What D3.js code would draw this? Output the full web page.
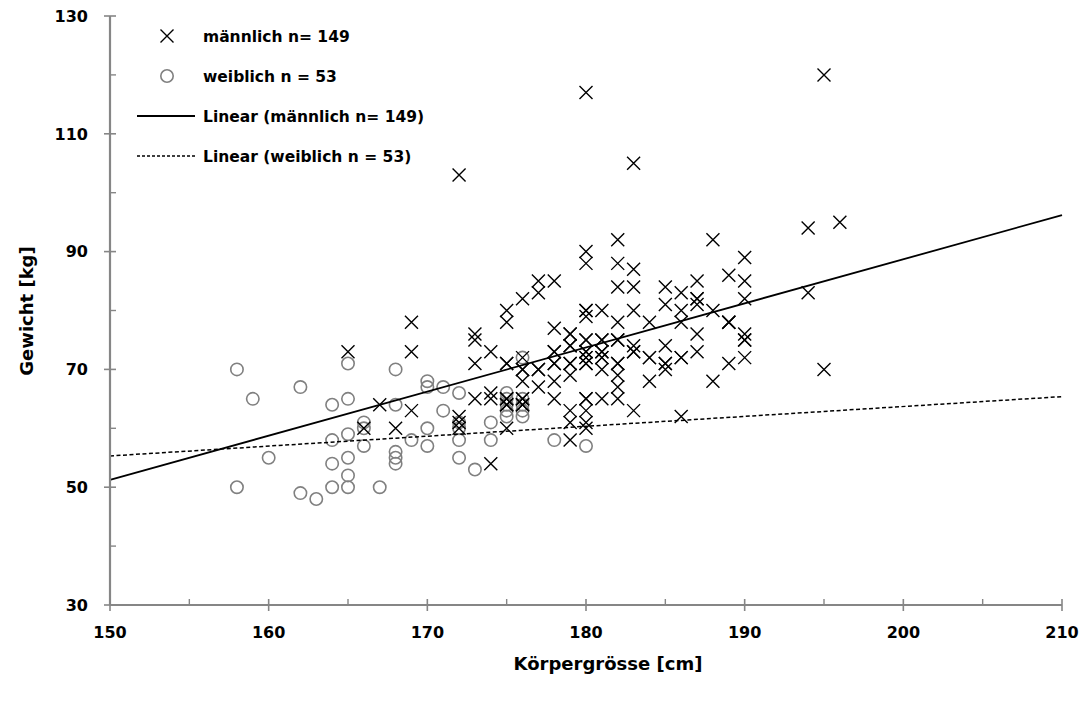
<!DOCTYPE html>
<html>
<head>
<meta charset="utf-8">
<script src="https://cdn.jsdelivr.net/npm/d3@7"></script>
<style>
  html, body { margin: 0; padding: 0; background: #fff; }
  svg { display: block; }
  text { font-family: "DejaVu Sans", sans-serif; font-weight: bold; fill: #000; }
</style>
</head>
<body>
<svg id="chart" width="1086" height="704"></svg>
<script>
// ---- data ----
const maleHeight = [165,166,167,168,169,169,169,
  172,172,172,172,173,173,173,173,174,174,174,174,
  175,175,175,175,175,175,176,176,176,176,176,176,
  177,177,177,177,178,178,178,178,178,178,
  179,179,179,179,179,179,179,
  180,180,180,180,180,180,180,180,180,180,180,180,180,
  181,181,181,181,181,181,
  182,182,182,182,182,182,182,182,182,
  183,183,183,183,183,183,183,
  184,184,184,185,185,185,185,185,
  186,186,186,186,186,187,187,187,187,187,
  188,188,188,189,189,189,189,
  190,190,190,190,190,190,194,194,195,195,196,
  // overlapping (hidden) duplicates
  175,175,175,176,176,176,177,178,178,179,179,179,
  180,180,180,180,180,180,181,181,181,182,182,183,184,185,186,187,189,190];
const maleWeight = [73,60,64,60,78,73,63,
  103,62,61,60,76,75,71,65,73,66,65,54,
  80,78,71,65,64,60,82,72,70,68,65,64,
  85,83,70,67,85,77,73,71,68,65,
  76,74,71,69,63,61,58,
  117,90,88,80,79,75,73,72,71,65,63,61,60,
  80,75,73,72,70,65,
  92,88,84,78,75,71,69,67,65,
  105,87,84,80,74,73,63,
  78,72,68,84,81,74,71,70,
  83,80,78,72,62,85,82,81,76,73,
  92,80,68,86,78,78,71,
  89,85,82,76,75,72,94,83,120,70,95,
  71,65,64,70,65,64,70,71,73,71,74,76,
  75,72,71,73,65,80,72,73,75,75,71,73,72,71,72,82,78,75];

const femaleHeight = [158,158,159,160,162,162,163,164,164,164,164,
  165,165,165,165,165,165,166,166,166,167,
  168,168,168,168,168,169,170,170,170,170,171,171,
  172,172,172,172,172,173,174,174,175,175,175,175,175,
  176,176,176,176,176,178,180];
const femaleWeight = [70,50,65,55,67,49,48,64,58,54,50,
  71,65,59,55,52,50,61,60,57,50,
  70,64,56,55,54,58,68,67,60,57,67,63,
  66,61,60,58,55,53,61,58,66,65,64,63,62,
  72,65,64,63,62,58,57];

// linear trend lines (slope, intercept) as shown in the reference
const maleTrend = [0.749, -61.1];
const femaleTrend = [0.168, 30.1];

const xTicks = [150,160,170,180,190,200,210];
const yTicks = [30,50,70,90,110,130];
const xMinor = [155,165,175,185,195,205];
const yMinor = [40,60,80,100,120];

const legendLabels = ["männlich n= 149", "weiblich n = 53",
  "Linear (männlich n= 149)", "Linear (weiblich n = 53)"];
const xTitle = "Körpergrösse [cm]";
const yTitle = "Gewicht [kg]";

// ---- drawing ----
const svg = d3.select("#chart");
const x = d3.scaleLinear().domain([150, 210]).range([110, 1062]);
const y = d3.scaleLinear().domain([30, 130]).range([605, 16]);
const axisColor = "#868686";

const line = d3.line().x(d => x(d[0])).y(d => y(d[1]));
function trendPts(t) { return [150, 210].map(v => [v, t[0] * v + t[1]]); }

// female circles
svg.append("g").selectAll("circle")
  .data(femaleHeight.map((h, i) => [h, femaleWeight[i]]))
  .join("circle")
  .attr("cx", d => x(d[0])).attr("cy", d => y(d[1])).attr("r", 6.2)
  .attr("fill", "none").attr("stroke", "#808080").attr("stroke-width", 1.6);

// male crosses
const s = 6.5;
svg.append("g").selectAll("path")
  .data(maleHeight.map((h, i) => [h, maleWeight[i]]))
  .join("path")
  .attr("transform", d => `translate(${x(d[0])},${y(d[1])})`)
  .attr("d", `M${-s},${-s}L${s},${s}M${-s},${s}L${s},${-s}`)
  .attr("stroke", "#000").attr("stroke-width", 1.4).attr("fill", "none");

svg.append("path").attr("d", line(trendPts(maleTrend)))
  .attr("stroke", "#000").attr("stroke-width", 1.8).attr("fill", "none");
svg.append("path").attr("d", line(trendPts(femaleTrend)))
  .attr("stroke", "#000").attr("stroke-width", 1.5).attr("fill", "none")
  .attr("stroke-dasharray", "4,2.5");

// axes
const gy = svg.append("g");
gy.append("line").attr("x1", x(150)).attr("x2", x(150)).attr("y1", y(30)).attr("y2", y(130))
  .attr("stroke", axisColor).attr("stroke-width", 2.2);
gy.selectAll("line.maj").data(yTicks).join("line").attr("class", "maj")
  .attr("x1", x(150) - 6).attr("x2", x(150) + 6).attr("y1", d => y(d)).attr("y2", d => y(d))
  .attr("stroke", axisColor).attr("stroke-width", 1.6);
gy.selectAll("line.min").data(yMinor).join("line").attr("class", "min")
  .attr("x1", x(150)).attr("x2", x(150) + 6).attr("y1", d => y(d)).attr("y2", d => y(d))
  .attr("stroke", axisColor).attr("stroke-width", 1.4);
gy.selectAll("text").data(yTicks).join("text")
  .attr("x", 88).attr("y", d => y(d)).attr("dy", "0.36em")
  .attr("text-anchor", "end").style("font-size", "16px").text(d => d);

const gx = svg.append("g");
gx.append("line").attr("x1", x(150)).attr("x2", x(210)).attr("y1", y(30)).attr("y2", y(30))
  .attr("stroke", axisColor).attr("stroke-width", 2.2);
gx.selectAll("line.maj").data(xTicks).join("line").attr("class", "maj")
  .attr("x1", d => x(d)).attr("x2", d => x(d)).attr("y1", y(30) - 6).attr("y2", y(30) + 6)
  .attr("stroke", axisColor).attr("stroke-width", 1.6);
gx.selectAll("line.min").data(xMinor).join("line").attr("class", "min")
  .attr("x1", d => x(d)).attr("x2", d => x(d)).attr("y1", y(30) - 6).attr("y2", y(30))
  .attr("stroke", axisColor).attr("stroke-width", 1.4);
gx.selectAll("text").data(xTicks).join("text")
  .attr("x", d => x(d)).attr("y", 638).attr("text-anchor", "middle")
  .style("font-size", "16px").text(d => d);

svg.append("text").attr("x", 608).attr("y", 670).attr("text-anchor", "middle")
  .style("font-size", "18px").text(xTitle);
svg.append("text").attr("transform", "translate(33,311) rotate(-90)")
  .attr("text-anchor", "middle").style("font-size", "18px").text(yTitle);

// legend
const lg = svg.append("g");
const rows = [36, 76, 116, 156];
lg.append("path").attr("transform", `translate(167,${rows[0]})`)
  .attr("d", `M${-s},${-s}L${s},${s}M${-s},${s}L${s},${-s}`)
  .attr("stroke", "#000").attr("stroke-width", 1.4);
lg.append("circle").attr("cx", 167).attr("cy", rows[1]).attr("r", 6.2)
  .attr("fill", "none").attr("stroke", "#808080").attr("stroke-width", 1.6);
lg.append("line").attr("x1", 137).attr("x2", 195).attr("y1", rows[2]).attr("y2", rows[2])
  .attr("stroke", "#000").attr("stroke-width", 1.8);
lg.append("line").attr("x1", 137).attr("x2", 195).attr("y1", rows[3]).attr("y2", rows[3])
  .attr("stroke", "#000").attr("stroke-width", 1.3).attr("stroke-dasharray", "3,2");
lg.selectAll("text").data(legendLabels).join("text")
  .attr("x", 203).attr("y", (d, i) => rows[i]).attr("dy", "0.36em")
  .style("font-size", "15.5px").text(d => d);
</script>
</body>
</html>
